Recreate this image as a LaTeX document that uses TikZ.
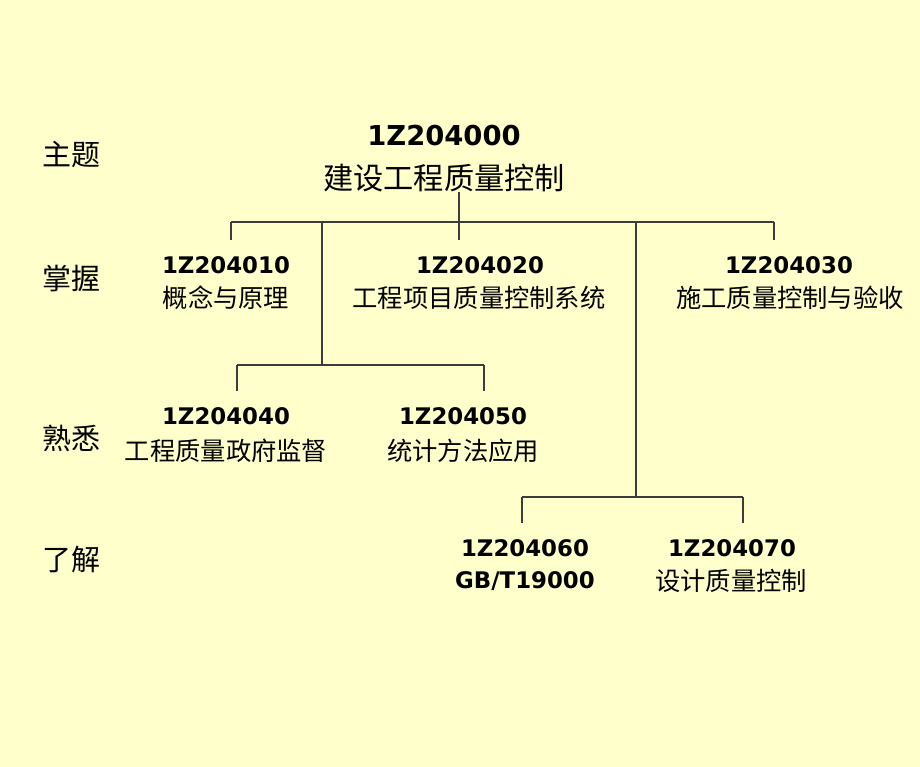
\documentclass[tikz,border=0pt]{standalone}
\usepackage{fontspec}
\setmainfont{DejaVu Sans}
\newfontfamily\cjk{Noto Sans CJK SC}
\usetikzlibrary{calc}

\definecolor{paper}{HTML}{FFFFCC}
\definecolor{wirecol}{HTML}{3C3C3C}

\tikzset{
    codebox/.style={inner sep=0pt, outer ysep=9.5pt, font=\fontsize{13}{15}\selectfont\bfseries},
    topcodebox/.style={codebox, font=\fontsize{15.6}{18}\selectfont\bfseries},
    namebox/.style={inner sep=0pt, font=\fontsize{14.4}{16}\selectfont\cjk},
    topnamebox/.style={inner sep=0pt, font=\fontsize{17.2}{19}\selectfont\cjk},
    tierbox/.style={inner sep=0pt, font=\fontsize{16.5}{18}\selectfont\cjk},
    wireline/.style={draw=wirecol, line width=0.6pt}
}

\begin{document}
\begin{tikzpicture}[x=0.02cm, y=-0.02cm]

    % Background
    \fill[paper] (0,0) rectangle (920,767);
    \useasboundingbox (0,0) rectangle (920,767);

    % Levels
    \node[tierbox] (l0) at (71,155) {主题};
    \node[tierbox] (l1) at (71,278) {掌握};
    \node[tierbox] (l2) at (71,438) {熟悉};
    \node[tierbox] (l3) at (71,560) {了解};

    % Root
    \node[topcodebox] (r) at (444,136) {1Z204000};
    \node[topnamebox] (rn) at (444,178) {建设工程质量控制};

    % First row
    \node[codebox] (c10) at (226,265) {1Z204010};
    \node[namebox] (n10) at (226,298) {概念与原理};
    \node[codebox] (c20) at (480,265) {1Z204020};
    \node[namebox] (n20) at (479,298) {工程项目质量控制系统};
    \node[codebox] (c30) at (789,265) {1Z204030};
    \node[namebox] (n30) at (790,298) {施工质量控制与验收};

    % Second row
    \node[codebox] (c40) at (226,416) {1Z204040};
    \node[namebox] (n40) at (226,451) {工程质量政府监督};
    \node[codebox] (c50) at (463,416) {1Z204050};
    \node[namebox] (n50) at (463,451) {统计方法应用};

    % Third row
    \node[codebox] (c60) at (525,548) {1Z204060};
    \node[codebox] (n60) at (525,581) {GB/T19000};
    \node[codebox] (c70) at (732,548) {1Z204070};
    \node[namebox] (n70) at (731,581) {设计质量控制};

    % Bus points
    \coordinate (b0) at (459,222);
    \coordinate (bl) at (231,222);
    \coordinate (br) at (774,222);
    \coordinate (b1) at (322,222);
    \coordinate (b2) at (636,222);
    \coordinate (k1) at (322,365);
    \coordinate (kl) at (237,365);
    \coordinate (kr) at (484,365);
    \coordinate (m1) at (636,497);
    \coordinate (ml) at (522,497);
    \coordinate (mr) at (743,497);

    % Connectors
    \draw[wireline] (b0 |- rn.south) -- (b0);
    \draw[wireline] (bl) -- (br);
    \draw[wireline] (bl) -- (bl |- c10.north);
    \draw[wireline] (b0) -- (b0 |- c20.north);
    \draw[wireline] (br) -- (br |- c30.north);
    \draw[wireline] (b1) -- (k1);
    \draw[wireline] (kl) -- (kr);
    \draw[wireline] (kl) -- (kl |- c40.north);
    \draw[wireline] (kr) -- (kr |- c50.north);
    \draw[wireline] (b2) -- (m1);
    \draw[wireline] (ml) -- (mr);
    \draw[wireline] (ml) -- (ml |- c60.north);
    \draw[wireline] (mr) -- (mr |- c70.north);

\end{tikzpicture}
\end{document}
